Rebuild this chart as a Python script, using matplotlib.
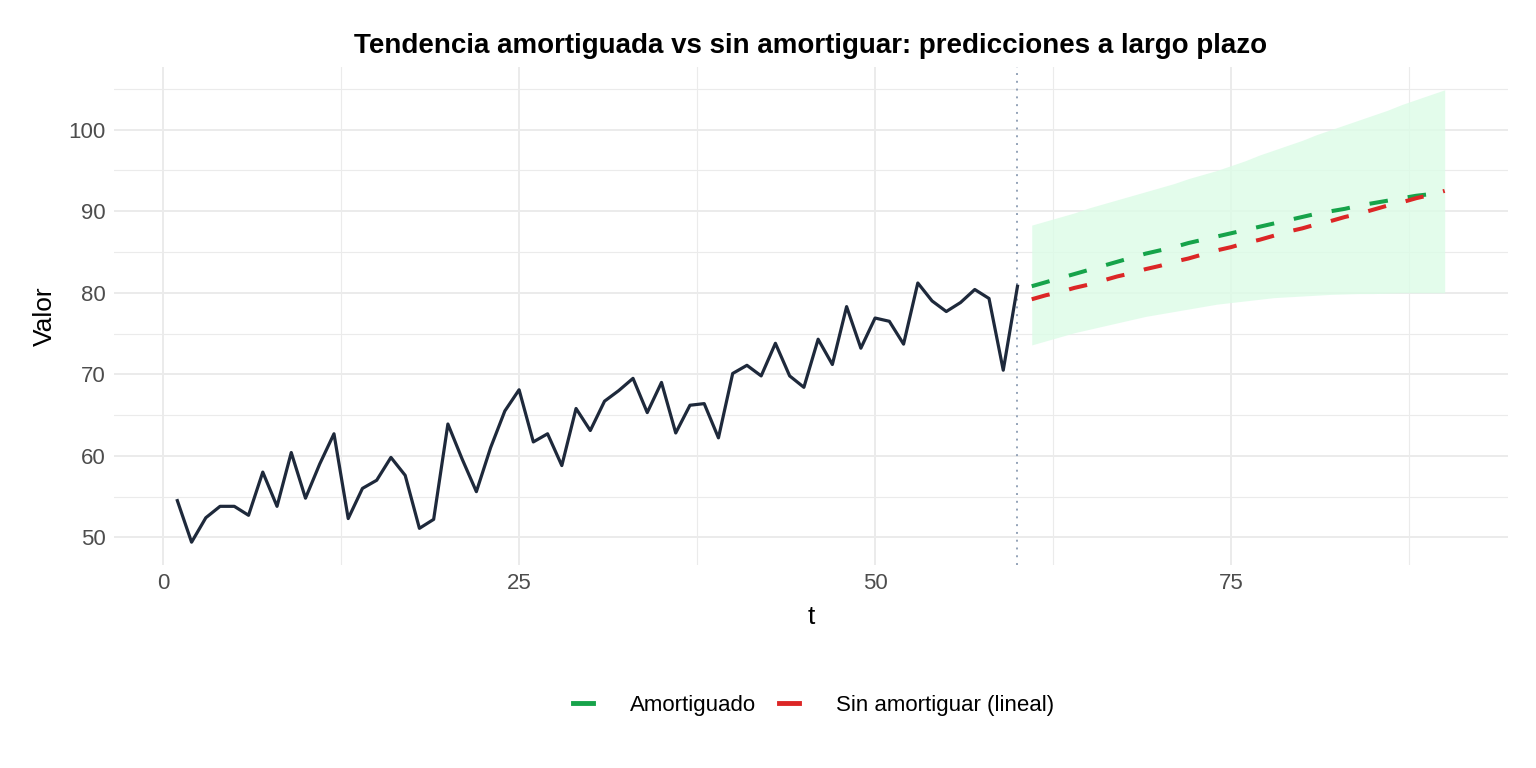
import numpy as np
import matplotlib.pyplot as plt
from matplotlib.lines import Line2D

plt.rcParams['font.family'] = ['Liberation Sans', 'DejaVu Sans']

# observed series, t = 1..60
t_obs = np.arange(1, 61)
y_obs = [54.5, 49.4, 52.4, 53.8, 53.8, 52.7, 58.0, 53.8, 60.4, 54.8,
         59.0, 62.7, 52.3, 56.0, 57.0, 59.8, 57.6, 51.1, 52.2, 63.9,
         59.6, 55.6, 61.0, 65.5, 68.1, 61.7, 62.7, 58.8, 65.8, 63.1,
         66.7, 68.0, 69.5, 65.3, 69.0, 62.8, 66.2, 66.4, 62.2, 70.1,
         71.1, 69.8, 73.8, 69.8, 68.4, 74.3, 71.2, 78.3, 73.2, 76.9,
         76.5, 73.7, 81.2, 79.0, 77.7, 78.8, 80.4, 79.3, 70.5, 80.8]

# forecasts, t = 61..90
t_fc = np.arange(61, 91)
damped = [80.8, 81.3, 81.8, 82.3, 82.8, 83.3, 83.8, 84.3, 84.8, 85.2,
          85.6, 86.1, 86.5, 86.9, 87.3, 87.7, 88.1, 88.5, 88.9, 89.3,
          89.7, 90.0, 90.3, 90.7, 91.0, 91.3, 91.6, 91.9, 92.1, 92.3]
linear = [79.2, 79.7, 80.1, 80.6, 81.0, 81.5, 82.0, 82.4, 82.9, 83.3,
          83.8, 84.2, 84.7, 85.2, 85.6, 86.1, 86.5, 87.0, 87.5, 87.9,
          88.4, 88.8, 89.3, 89.7, 90.2, 90.7, 91.1, 91.6, 92.0, 92.5]
upper = [88.3, 88.8, 89.3, 89.8, 90.4, 90.9, 91.4, 91.9, 92.4, 92.9,
         93.4, 94.0, 94.5, 95.0, 95.6, 96.2, 96.9, 97.5, 98.1, 98.7,
         99.4, 100.0, 100.6, 101.2, 101.8, 102.4, 103.1, 103.7, 104.3, 104.9]
lower = [73.6, 74.1, 74.6, 75.1, 75.5, 75.9, 76.3, 76.7, 77.1, 77.4,
         77.7, 78.0, 78.3, 78.6, 78.8, 79.0, 79.2, 79.4, 79.5, 79.6,
         79.7, 79.8, 79.85, 79.9, 79.9, 79.95, 80.0, 80.0, 80.0, 80.0]

green = '#16a34a'
red = '#dc2626'

fig = plt.figure(figsize=(15.36, 7.68), dpi=100)
ax = fig.add_axes([0.0742, 0.2643, 0.9076, 0.6485])

ax.fill_between(t_fc, lower, upper, color='#dcfce7', alpha=0.8, lw=0, zorder=1)
ax.axvline(60, color='#94a3b8', lw=1.4, ls=(0, (1, 3)), zorder=2)
ax.plot(t_obs, y_obs, color='#1e293b', lw=2.3, zorder=4)
ax.plot(t_fc, damped, color=green, lw=2.9, dashes=(4.6, 5.0), zorder=3)
ax.plot(t_fc, linear, color=red, lw=2.9, dashes=(4.6, 5.0), zorder=3)

ax.set_xlim(-3.45, 94.45)
ax.set_ylim(46.6, 107.7)
ax.set_xticks([0, 25, 50, 75])
ax.set_xticks([12.5, 37.5, 62.5, 87.5], minor=True)
ax.set_yticks([50, 60, 70, 80, 90, 100])
ax.set_yticks([55, 65, 75, 85, 95, 105], minor=True)
ax.grid(which='major', color='#ebebeb', lw=1.4)
ax.grid(which='minor', color='#ebebeb', lw=0.8)
ax.set_axisbelow(True)
for s in ax.spines.values():
    s.set_visible(False)
ax.tick_params(which='both', length=0, labelsize=16, labelcolor='#4d4d4d', pad=6)

ax.set_xlabel('t', fontsize=19, labelpad=8)
ax.set_ylabel('Valor', fontsize=19, labelpad=8)
ax.set_title('Tendencia amortiguada vs sin amortiguar: predicciones a largo plazo',
             fontsize=20, fontweight='bold', pad=10)

handles = [Line2D([], [], color=green, lw=3.5), Line2D([], [], color=red, lw=3.5)]
fig.legend(handles, ['Amortiguado', 'Sin amortiguar (lineal)'], loc='center',
           bbox_to_anchor=(0.5296, 0.082), ncol=2, frameon=False, fontsize=16,
           handlelength=0.9, handletextpad=1.67, columnspacing=1.04)

fig.savefig('out.png', dpi=100)
